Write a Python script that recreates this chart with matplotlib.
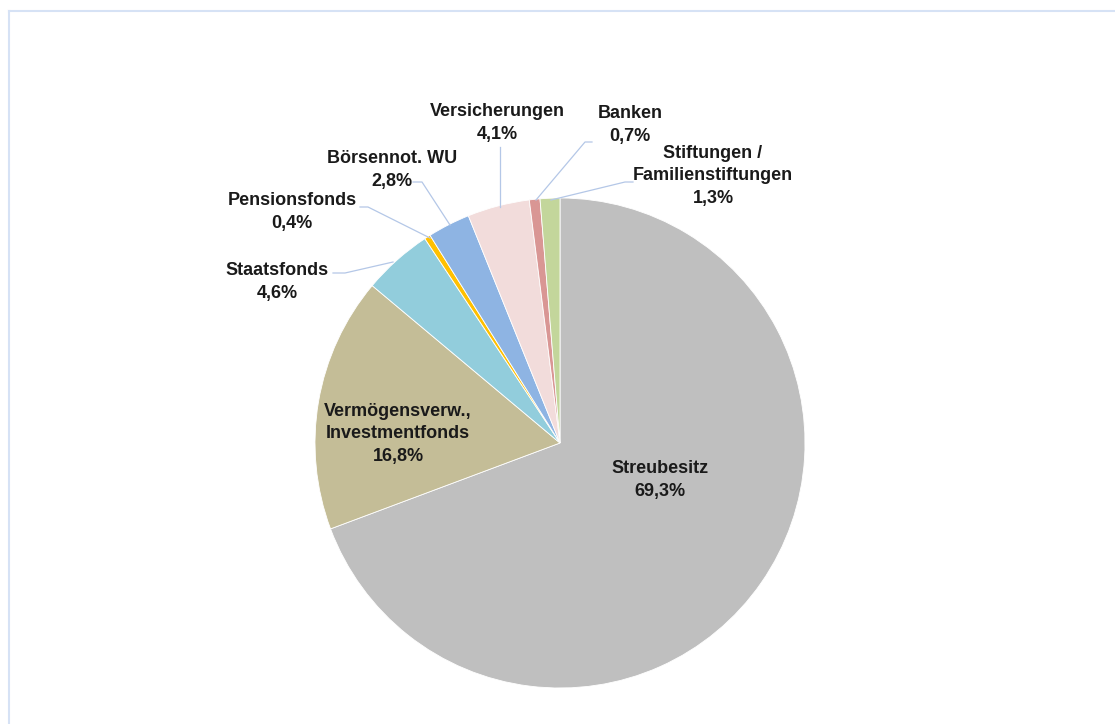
import matplotlib.pyplot as plt
from matplotlib.lines import Line2D

# Data
labels = ['Streubesitz', 'Vermögensverw.,\nInvestmentfonds', 'Staatsfonds', 'Pensionsfonds',
          'Börsennot. WU', 'Versicherungen', 'Banken', 'Stiftungen /\nFamilienstiftungen']
values = [69.3, 16.8, 4.6, 0.4, 2.8, 4.1, 0.7, 1.3]
colors = ['#BFBFBF', '#C4BD97', '#92CDDC', '#FFC000', '#8EB4E3', '#F2DCDB', '#D99694', '#C3D69B']

# label centres and leader lines in pixel coords (x, y from top)
label_px = [(660, 480), (398, 434), (277, 282), (292, 212), (392, 170), (497, 123), (630, 125), (713, 176)]
leaders_px = [None, None,
              [(333, 273), (345, 273), (393, 262)],
              [(360, 207), (368, 207), (430, 238)],
              [(413, 182), (422, 182), (450, 225)],
              [(500, 147), (500, 207)],
              [(592, 142), (585, 142), (536, 200)],
              [(633, 182), (625, 182), (551, 200)]]

W, H = 1115, 724
plt.rcParams['font.family'] = ['Liberation Sans Narrow', 'Liberation Sans', 'DejaVu Sans']

fig = plt.figure(figsize=(W / 100, H / 100), dpi=100)
cx, cy, r = 560, 443, 245
ax = fig.add_axes([(cx - r) / W, (H - cy - r) / H, 2 * r / W, 2 * r / H])
ax.pie(values, colors=colors, startangle=90, counterclock=False, radius=1,
       wedgeprops=dict(edgecolor='white', linewidth=0.6))
ax.set_xlim(-1, 1)
ax.set_ylim(-1, 1)
ax.set_aspect('auto')
ax.axis('off')


def to_data(px, py):
    return (px - cx) / r, (cy - py) / r


for lab, val, (px, py), lead in zip(labels, values, label_px, leaders_px):
    x, y = to_data(px, py)
    pct = f"{val:.1f}%".replace('.', ',')
    ax.text(x, y, f"{lab}\n{pct}", ha='center', va='center',
            fontsize=13, fontweight='bold', linespacing=1.45, color='#1a1a1a')
    if lead:
        pts = [to_data(a, b) for a, b in lead]
        ax.plot([p[0] for p in pts], [p[1] for p in pts], color='#B4C7E7', lw=0.9,
                clip_on=False)

# frame around the chart
fig.add_artist(Line2D([9 / W, 1], [1 - 11 / H, 1 - 11 / H], color='#D6E2F5', lw=1.5))
fig.add_artist(Line2D([9 / W, 9 / W], [0, 1 - 11 / H], color='#D6E2F5', lw=1.5))

fig.savefig('out.png', dpi=100)
